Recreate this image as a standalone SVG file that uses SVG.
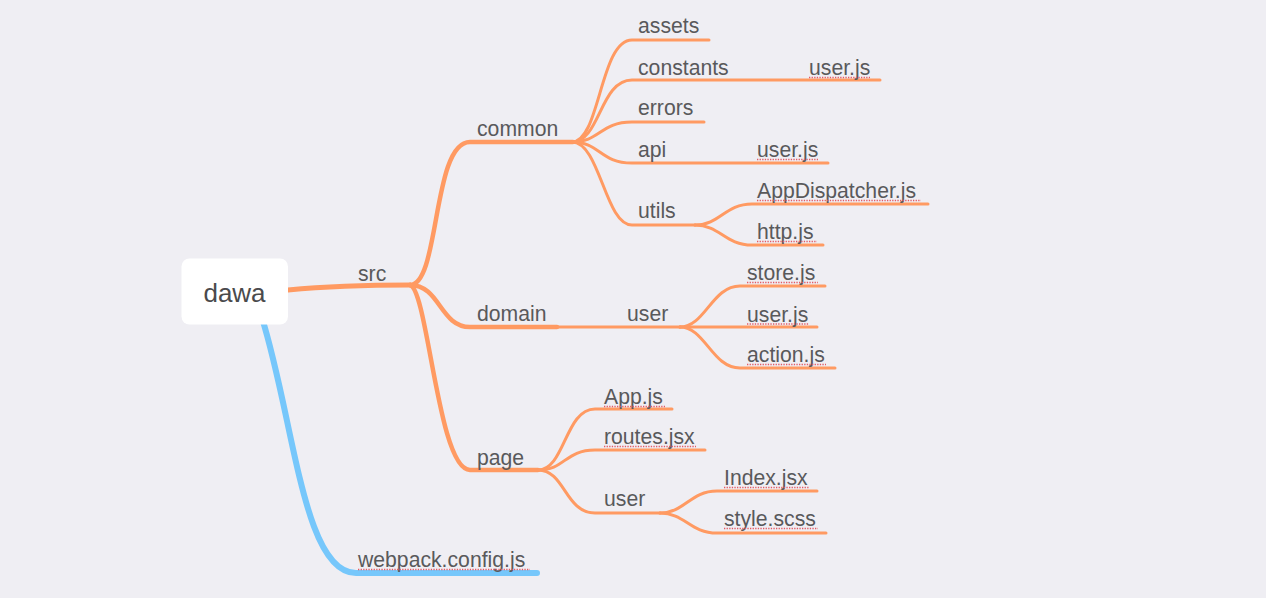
<svg xmlns="http://www.w3.org/2000/svg" width="1266" height="598" viewBox="0 0 1266 598">
<style>
text{font-family:"Liberation Sans",Arial,Helvetica,sans-serif;fill:#59595b;font-size:21.2px}
.o{fill:none;stroke:#ff9a62;stroke-linecap:round}
.m{stroke-width:4.5}
.s{stroke-width:3}
.b{fill:none;stroke:#76c7fb;stroke-width:6;stroke-linecap:round}
.sp{stroke:#e35a64;stroke-width:1.3;stroke-dasharray:1.3 1.3;fill:none}
</style>
<rect width="1266" height="598" fill="#efeef3"/>
<g id="connectors">
<path class="b" d="M262,318 C294,420 303,573 356,573 L537,573"/>
<path class="o" stroke-width="5" d="M288,290 C330,286 370,285 410,285"/>
<path class="o m" d="M410,285 C440,285 432,142 470,142 L573,142"/>
<path class="o m" d="M410,285 C440,285 440,327 470,327 L557,327"/>
<path class="o m" d="M410,285 C428,290 438,470 470,470 L538,470"/>
<path class="o s" d="M557,327 L680,327"/>
<path class="o s" d="M572,142 C600,142 600,40 632,40 L709,40"/>
<path class="o s" d="M572,142 C600,142 600,80 632,80 L880,80"/>
<path class="o s" d="M572,142 C600,142 600,122 632,122 L704,122"/>
<path class="o s" d="M572,142 C600,142 600,163 632,163 L828,163"/>
<path class="o s" d="M572,142 C600,142 605,225 632,225 L695,225"/>
<path class="o s" d="M695,225 C720,225 725,204 752,204 L928,204"/>
<path class="o s" d="M695,225 C720,225 725,245 752,245 L823,245"/>
<path class="o s" d="M680,327 C705,327 712,286 740,286 L825,286"/>
<path class="o s" d="M680,327 L817,327"/>
<path class="o s" d="M680,327 C705,327 712,368 740,368 L835,368"/>
<path class="o s" d="M538,470 C565,470 565,409 595,409 L672,409"/>
<path class="o s" d="M538,470 C565,470 565,450 595,450 L705,450"/>
<path class="o s" d="M538,470 C565,470 565,513 595,513 L660,513"/>
<path class="o s" d="M660,513 C685,513 690,491 717,491 L817,491"/>
<path class="o s" d="M660,513 C685,513 690,533 717,533 L826,533"/>
</g>
<g id="dawa"><rect x="181.5" y="258.5" width="106.5" height="66" rx="8" fill="#ffffff"/><text x="234.5" y="302" text-anchor="middle" style="font-size:26px;fill:#4a4a4c">dawa</text></g>
<g id="src"><text x="358" y="281">src</text></g>
<g id="common"><text x="477" y="136">common</text></g>
<g id="domain"><text x="477" y="321">domain</text></g>
<g id="page"><text x="477" y="465">page</text></g>
<g id="domain-user"><text x="627" y="321">user</text></g>
<g id="assets"><text x="638" y="33">assets</text></g>
<g id="constants"><text x="638" y="75">constants</text></g>
<g id="errors"><text x="638" y="115">errors</text></g>
<g id="api"><text x="638" y="157">api</text></g>
<g id="utils"><text x="638" y="218">utils</text></g>
<g id="constants-user-js"><text x="809" y="75">user.js</text><path class="sp" d="M809,77.5 H870"/></g>
<g id="api-user-js"><text x="757" y="157">user.js</text><path class="sp" d="M757,159.5 H818"/></g>
<g id="appdispatcher"><text x="757" y="198">AppDispatcher.js</text><path class="sp" d="M757,200.5 H921"/></g>
<g id="http"><text x="757" y="239">http.js</text><path class="sp" d="M757,241.5 H817"/></g>
<g id="store"><text x="747" y="280">store.js</text><path class="sp" d="M747,282.5 H818"/></g>
<g id="domain-user-js"><text x="747" y="322">user.js</text><path class="sp" d="M747,324 H809"/></g>
<g id="action"><text x="747" y="362">action.js</text><path class="sp" d="M747,364.5 H826"/></g>
<g id="app"><text x="604" y="404">App.js</text><path class="sp" d="M604,406.5 H665"/></g>
<g id="routes"><text x="604" y="444">routes.jsx</text><path class="sp" d="M604,446.5 H696"/></g>
<g id="page-user"><text x="604" y="506">user</text></g>
<g id="index"><text x="724" y="485">Index.jsx</text><path class="sp" d="M724,487.5 H809"/></g>
<g id="style"><text x="724" y="526">style.scss</text><path class="sp" d="M724,528.5 H818"/></g>
<g id="webpack"><text x="358" y="567">webpack.config.js</text><path class="sp" d="M358,569.5 H530"/></g>
</svg>
